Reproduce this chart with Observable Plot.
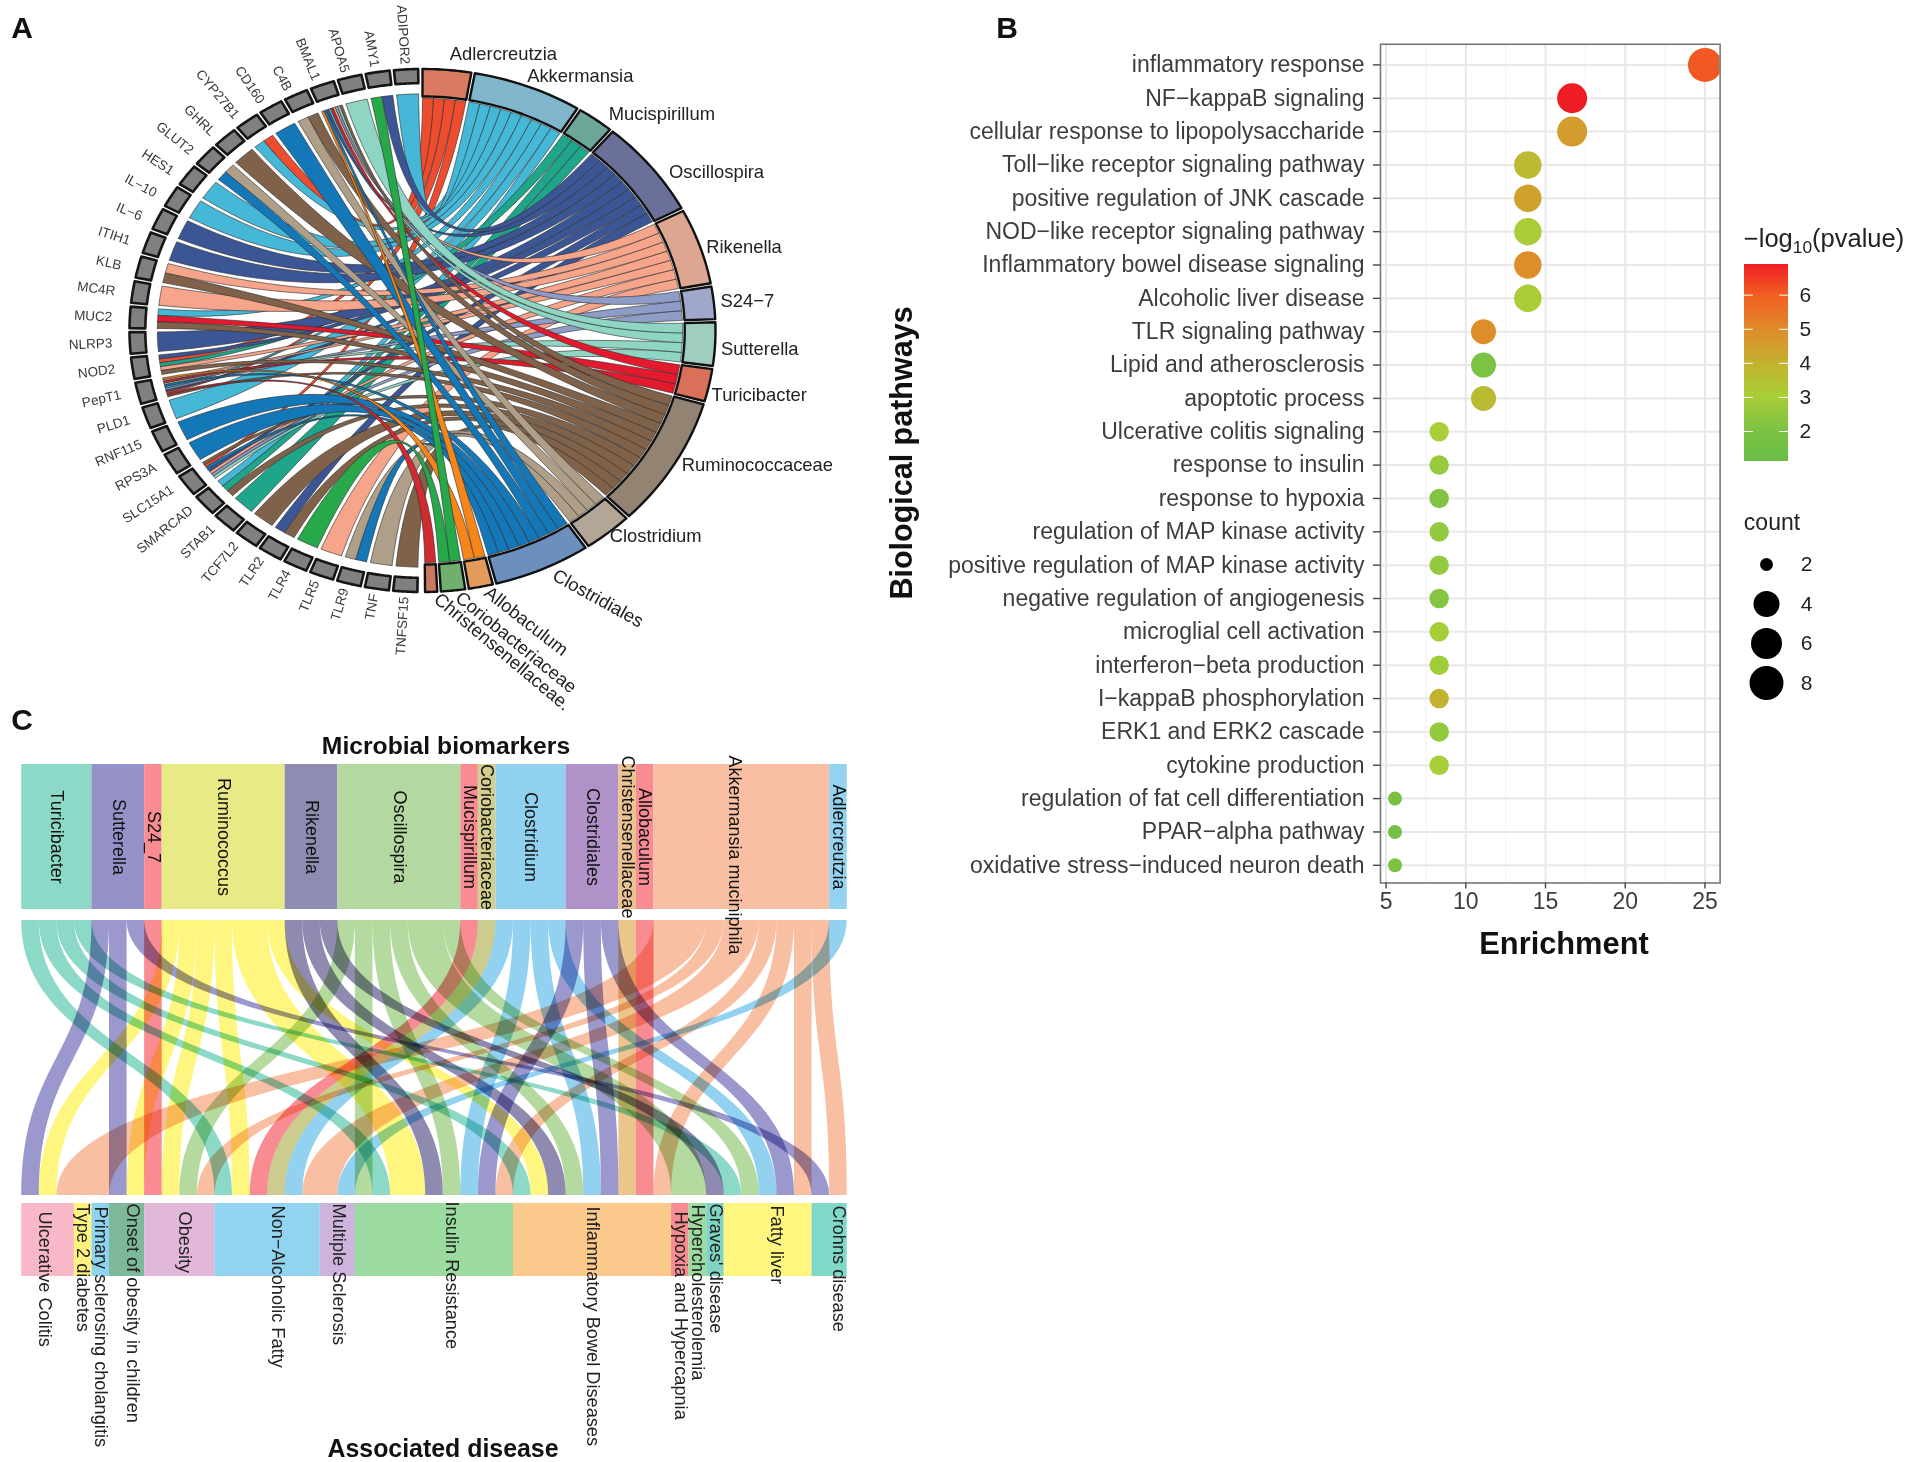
<!DOCTYPE html>
<html>
<head>
<meta charset="utf-8">
<script src="https://cdn.jsdelivr.net/npm/d3@7"></script>
<script src="https://cdn.jsdelivr.net/npm/@observablehq/plot@0.6"></script>
<style>
html,body{margin:0;padding:0;background:#fff}
#page{position:relative;width:1907px;height:1462px;overflow:hidden;font-family:"Liberation Sans",Arial,sans-serif;color:#111}
#page svg{position:absolute;background:transparent;overflow:visible}
.lbl{position:absolute;white-space:nowrap;transform:translate(-50%,-50%);line-height:1}
.lbl sub{font-size:.68em;line-height:0}
</style>
</head>
<body>
<div id="page"></div>
<script>
// ---------- Panel A data
const microbes = ["Adlercreutzia","Akkermansia","Mucispirillum","Oscillospira","Rikenella","S24−7","Sutterella","Turicibacter","Ruminococcaceae","Clostridium","Clostridiales","Allobaculum","Coriobacteriaceae","Christensenellaceae."];
const microbeRibbonColors = ["#EE4C2F","#45B8D8","#1FA58A","#3B5595","#F6A48A","#8E9CC8","#8FD5C3","#E3192E","#80624A","#B09F88","#1477B8","#F7861A","#27A84A","#D02B30"];
const microbeBlockColors = ["#D97B63","#7FB6CB","#6BA89A","#6A7099","#DCA690","#9FA8CB","#9FCDBF","#D9705A","#938373","#B3A696","#6C8FBE","#E39B5C","#70AF6E","#C97A5E"];
const microbeLabelTilt = [0,0,0,0,0,0,0,0,0,0,29,38,39,40];
const microbeLabelNudge = [[2,-8],[-4,-3],[8,1],[11,10],[-2,3],[-2,-1],[-3,5],[-6,8],[0,-3],[-4,-3],[8,-2],[4,-4],[4,-3],[5,-3]];
const genes = ["TNFSF15","TNF","TLR9","TLR5","TLR4","TLR2","TCF7L2","STAB1","SMARCAD","SLC15A1","RPS3A","RNF115","PLD1","PepT1","NOD2","NLRP3","MUC2","MC4R","KLB","ITIH1","IL−6","IL−10","HES1","GLUT2","GHRL","CYP27B1","CD160","C4B","BMAL1","APOA5","AMY1","ADIPOR2"];
const geneMicrobes = [
 ["Ruminococcaceae"],["Clostridium"],["Clostridiales","Clostridium"],["Rikenella"],["Coriobacteriaceae"],
 ["Ruminococcaceae","Oscillospira"],["Ruminococcaceae"],["Mucispirillum"],["Ruminococcaceae","Mucispirillum","Akkermansia"],
 ["Sutterella","S24−7","Rikenella","Oscillospira","Clostridiales","Adlercreutzia","Ruminococcaceae"],
 ["Clostridiales"],["Clostridiales"],["Akkermansia"],
 ["Ruminococcaceae","Christensenellaceae.","Adlercreutzia","Oscillospira","S24−7","Akkermansia","Clostridiales","Sutterella","Turicibacter","Rikenella","Allobaculum"],
 ["Ruminococcaceae","Rikenella","Mucispirillum","Adlercreutzia","Oscillospira"],
 ["Oscillospira"],["Ruminococcaceae","Turicibacter","Akkermansia"],["Rikenella"],["Ruminococcaceae","Rikenella"],
 ["Oscillospira"],["Oscillospira"],["Akkermansia"],["Akkermansia"],["Clostridiales","Clostridium"],["Ruminococcaceae"],
 ["Akkermansia","Adlercreutzia"],["Clostridiales"],["Clostridium","Ruminococcaceae"],
 ["Allobaculum","Clostridiales","Oscillospira","Akkermansia","Turicibacter","Rikenella","S24−7","Sutterella","Ruminococcaceae"],
 ["Sutterella"],["Coriobacteriaceae","Oscillospira"],["Akkermansia"]
];
// ---------- Panel B data
const pathways = ["inflammatory response","NF−kappaB signaling","cellular response to lipopolysaccharide","Toll−like receptor signaling pathway","positive regulation of JNK cascade","NOD−like receptor signaling pathway","Inflammatory bowel disease signaling","Alcoholic liver disease","TLR signaling pathway","Lipid and atherosclerosis","apoptotic process","Ulcerative colitis signaling","response to insulin","response to hypoxia","regulation of MAP kinase activity","positive regulation of MAP kinase activity","negative regulation of angiogenesis","microglial cell activation","interferon−beta production","I−kappaB phosphorylation","ERK1 and ERK2 cascade","cytokine production","regulation of fat cell differentiation","PPAR−alpha pathway","oxidative stress−induced neuron death"];
const enrichment = [25,16.67,16.67,13.89,13.89,13.89,13.89,13.89,11.11,11.11,11.11,8.33,8.33,8.33,8.33,8.33,8.33,8.33,8.33,8.33,8.33,8.33,5.56,5.56,5.56];
const pathwayCount = [9,6,6,5,5,5,5,5,4,4,4,3,3,3,3,3,3,3,3,3,3,3,2,2,2];
const logP = [6.05,6.9,4.5,3.7,4.4,3.1,4.9,3.1,4.9,2.0,3.6,3.0,2.6,2.1,2.5,2.5,2.2,2.9,2.8,3.9,2.5,3.0,1.8,1.6,2.0];
const xTicksB = [5,10,15,20,25];
const colorTicks = [2,3,4,5,6];
const countTicks = [2,4,6,8];
// ---------- Panel C data
const sources = ["Turicibacter","Sutterella","S24_7","Ruminococcus","Rikenella","Oscillospira","Mucispirillum","Coriobacteriaceae","Clostridium","Clostridiales","Christensenellaceae","Allobaculum","Akkermansia muciniphila","Adlercreutzia"];
const sourceBlockColors = ["#8DD9C7","#9492C8","#F98C93","#E8EA85","#8E8CB0","#B3D8A0","#F98C93","#D2CF8E","#90D1F0","#AE92C8","#EBC390","#F98C93","#F8BFA2","#93D3F0"];
const sourceFlowColors = ["#8CD9C7","#9B98CE","#F98C93","#FFF680","#8F8BB0","#B5DAA0","#F98C93","#CCCC8E","#92D2F0","#9B98CE","#EBC58C","#F98C93","#F9BFA3","#92D2F0"];
const diseases = ["Ulcerative Colitis","Type 2 diabetes","Primary sclerosing cholangitis","Onset of obesity in children","Obesity","Non−Alcoholic Fatty","Multiple Sclerosis","Insulin Resistance","Inflammatory Bowel Diseases","Hypoxia and Hypercapnia","Hypercholesterolemia","Graves' disease","Fatty liver","Crohns disease"];
const diseaseBlockColors = ["#F8B8C8","#FFF27F","#8ED4F0","#7DB89A","#E2B8D8","#92D3F0","#CDB4DC","#9BDBA0","#FBC98C","#F98C93","#9BDBA0","#7FD4C4","#FFF680","#80D8C8"];
const T="Turicibacter",Su="Sutterella",S2="S24_7",Ru="Ruminococcus",Ri="Rikenella",Os="Oscillospira",Mu="Mucispirillum",Co="Coriobacteriaceae",Cl="Clostridium",Cs="Clostridiales",Ch="Christensenellaceae",Al="Allobaculum",Ak="Akkermansia muciniphila",Ad="Adlercreutzia";
const diseaseSources = [[Su,Ru,Ak],[Ak],[Ak],[Su,Ru],[S2,Ru,Os,Ak],[T,Ru,Mu,Co,Cl,Ak],[Ak,Ad],[Os,T,Ru,Ru,Ri,Os,Cl,Cs,Ak],[T,Ru,Ri,Os,Cl,Cs,Ch,Al,Ak],[Os],[Os],[Ri],[T,Os,Cl,Cs,Ak],[Su,Ak]];
// small label nudges for panel C (label x shift, label start inset), in pixels
const diseaseLabelNudge = [[-3,8],[0,0],[0,3],[6,0],[5,8],[10,2],[1,0],[17,-2],[0,3],[0,8],[0,1],[0,0],[9,2],[9,2]];

// ---------- helpers
const page = document.getElementById("page");
const FONT = '"Liberation Sans",Arial,sans-serif';
function place(svg,left,top){svg.style.left=left+"px";svg.style.top=top+"px";page.appendChild(svg);}
function label(html,x,y,o={}){const d=document.createElement("div");d.className="lbl";d.innerHTML=html;
 d.style.left=x+"px";d.style.top=y+"px";d.style.fontSize=(o.size||20)+"px";d.style.fontWeight=o.bold?"bold":"normal";d.style.color=o.color||"#111";
 if(o.rotate)d.style.transform=`translate(-50%,-50%) rotate(${o.rotate}deg)`;page.appendChild(d);}

// ---------- Panel A
const RX=293,RY=261.5,CX=422,CY=330;
const rad=a=>a*Math.PI/180;
const polar=(a,r)=>[r*Math.sin(rad(a)),-r*Math.cos(rad(a))];
const unit=2.4,gapM=0.7;
const counts=microbes.map(m=>geneMicrobes.filter(g=>g.includes(m)).length);
let cur=0;const sectors=microbes.map((m,i)=>{const s=cur,e=cur+counts[i]*unit;cur=e+gapM;return {m,i,s,e,slot:0};});
const geneStep=(359.6-180.6)/genes.length,geneW=geneStep-0.85;
const geneArcs=genes.map((g,i)=>({g,i,s:180.6+i*geneStep+0.4,e:180.6+i*geneStep+0.4+geneW}));
function ringPoly(id,a,b,r0,r1,extra){const pts=[];const n=14;
 for(let k=0;k<=n;k++){const t=a+(b-a)*k/n;const[x,y]=polar(t,r1);pts.push({id,x,y,...extra});}
 for(let k=n;k>=0;k--){const t=a+(b-a)*k/n;const[x,y]=polar(t,r0);pts.push({id,x,y,...extra});}
 pts.push({...pts[0]});return pts;}
// links ordered so each microbe sector is untwisted
const links=[];
geneArcs.forEach((ga,gi)=>{const ms=geneMicrobes[gi];const w=geneW/ms.length;ms.forEach((m,k)=>links.push({gi,m,a1:ga.s+k*w,a2:ga.s+(k+1)*w}));});
microbes.forEach((m,mi)=>{const ls=links.filter(l=>l.m===m).sort((p,q)=>q.a1-p.a1);ls.forEach((l,k)=>{l.b1=sectors[mi].s+k*unit;l.b2=l.b1+unit;l.mi=mi;});});
const RM=0.888,RG=0.905;
function bez(p0,p2,n,pts,extra){for(let k=0;k<=n;k++){const t=k/n,u=1-t;pts.push({x:u*u*p0[0]+t*t*p2[0],y:u*u*p0[1]+t*t*p2[1],...extra});}}
function arc(a,b,r,n,pts,extra){for(let k=0;k<=n;k++){const[x,y]=polar(a+(b-a)*k/n,r);pts.push({x,y,...extra});}}
const drawOrder=[0,1,2,3,4,5,6,7,8,9,10,11,13,12];
const ribbonPts=[];
drawOrder.forEach(mi=>{links.filter(l=>l.mi===mi).forEach((l,j)=>{
 const ex={id:"r"+mi+"-"+j,color:microbeRibbonColors[mi]};
 arc(l.a1,l.a2,RG,5,ribbonPts,ex);
 bez(polar(l.a2,RG),polar(l.b1,RM),30,ribbonPts,ex);
 arc(l.b1,l.b2,RM,5,ribbonPts,ex);
 bez(polar(l.b2,RM),polar(l.a1,RG),30,ribbonPts,ex);
});});
const sectorPts=sectors.flatMap(s=>ringPoly("m"+s.i,s.s,s.e,0.895,1,{color:microbeBlockColors[s.i]}));
const genePts=geneArcs.flatMap(g=>ringPoly("g"+g.i,g.s,g.e,0.946,1,{color:"#808080"}));
const geneLabels=geneArcs.map(g=>{const a=(g.s+g.e)/2;const x=1.06*Math.sin(rad(a)),y=-1.02*Math.cos(rad(a));
 const rot=Math.atan2(Math.cos(rad(a))*RY,-Math.sin(rad(a))*RX)*180/Math.PI;return {t:g.g,x,y,rot};});
const microbeLabels=sectors.map(s=>{const[x,y]=polar((s.s+s.e)/2,1.03);const n=microbeLabelNudge[s.i];return {t:s.m,x:x+n[0]/RX,y:y+n[1]/RY,rot:microbeLabelTilt[s.i]};});

place(Plot.plot({width:880,height:725,margin:0,
 x:{domain:[-1,1],range:[CX-RX,CX+RX],axis:null},
 y:{domain:[-1,1],range:[CY-RY,CY+RY],axis:null},
 style:{fontFamily:FONT,background:"transparent"},
 marks:[
  Plot.line(ribbonPts,{x:"x",y:"y",z:"id",fill:"color",stroke:"#2a2a2a",strokeWidth:0.7,strokeOpacity:0.85,curve:"linear"}),
  Plot.line(sectorPts,{x:"x",y:"y",z:"id",fill:"color",stroke:"#111",strokeWidth:2.4,curve:"linear"}),
  Plot.line(genePts,{x:"x",y:"y",z:"id",fill:"color",stroke:"#151515",strokeWidth:2.6,curve:"linear"}),
  Plot.text(geneLabels,{x:"x",y:"y",text:"t",rotate:"rot",textAnchor:"end",lineAnchor:"middle",fontSize:13.5,fill:"#3a3a3a"}),
  Plot.text(microbeLabels,{x:"x",y:"y",text:"t",rotate:"rot",textAnchor:"start",lineAnchor:"middle",fontSize:18.4,fill:"#222"})
 ]}),0,0);

// ---------- Panel B
const bRows=pathways.map((name,i)=>({name,e:enrichment[i],count:pathwayCount[i],p:logP[i]}));
const colorScale={type:"linear",domain:[1.12,2,3,4,5,6,6.9],range:["#69BD45","#7CC243","#A9CF38","#C4B02F","#E08A2A","#F25C22","#EE1C25"]};
const minor=[7.5,12.5,17.5,22.5];
place(Plot.plot({width:860,height:980,marginLeft:500,marginRight:20.4,marginTop:43.75,marginBottom:97.5,
 x:{domain:[4.65,25.95],axis:null},
 y:{type:"point",padding:0,round:false,domain:pathways,range:[64.4,864.8],axis:null},
 color:colorScale,
 r:{type:"linear",domain:[2,4,6,9],range:[7,12.5,15,17]},
 style:{fontFamily:FONT,background:"transparent"},
 marks:[
  Plot.ruleX(minor,{stroke:"#f0f0f0",strokeWidth:1}),
  Plot.ruleX(xTicksB,{stroke:"#e8e8e8",strokeWidth:2}),
  Plot.ruleY(pathways,{stroke:"#e8e8e8",strokeWidth:2}),
  Plot.dot(bRows,{x:"e",y:"name",r:"count",fill:"p",clip:true}),
  Plot.frame({stroke:"#777",strokeWidth:1.6}),
  Plot.axisY({anchor:"left",label:null,tickSize:7,tickPadding:9,fontSize:23,color:"#3d3d3d",stroke:"#444",strokeWidth:1.4}),
  Plot.axisX({anchor:"bottom",ticks:xTicksB,label:null,tickSize:6,tickPadding:4,fontSize:23,color:"#3d3d3d",stroke:"#444",strokeWidth:1.4,tickFormat:d=>String(d)})
 ]}),880,0);
label("Enrichment",1564,944,{size:30.8,bold:true});
label("Biological pathways",901,453,{size:30.5,bold:true,rotate:-90});
// colour legend
const barVals=d3.range(1.12,6.9,0.04);
place(Plot.plot({width:160,height:230,margin:0,
 x:{domain:[0,1],range:[4,48],axis:null},
 y:{domain:[6.9,1.12],range:[14,211],axis:null},
 color:colorScale,
 style:{fontFamily:FONT,background:"transparent"},
 marks:[
  Plot.rect(barVals,{x1:0,x2:1,y1:d=>d,y2:d=>Math.min(6.9,d+0.08),fill:d=>d,shapeRendering:"crispEdges"}),
  Plot.ruleY(colorTicks,{x1:0,x2:0.2,stroke:"#fff",strokeWidth:1}),
  Plot.ruleY(colorTicks,{x1:0.8,x2:1,stroke:"#fff",strokeWidth:1}),
  Plot.text(colorTicks,{x:1,y:d=>d,text:d=>String(d),dx:11,textAnchor:"start",lineAnchor:"middle",fontSize:21,fill:"#222"})
 ]}),1740,250);
label("−log<sub>10</sub>(pvalue)",1824,239,{size:25.5,color:"#222"});
label("count",1772,522,{size:23,color:"#222"});
// size legend
place(Plot.plot({width:160,height:170,margin:0,
 x:{domain:[0,1],range:[26,66],axis:null},
 y:{type:"point",padding:0,round:false,domain:countTicks,range:[24,142.5],axis:null},
 r:{type:"linear",domain:[2,4,6,8],range:[6.5,13,15.5,17]},
 style:{fontFamily:FONT,background:"transparent"},
 marks:[
  Plot.dot(countTicks,{x:()=>0,y:d=>d,r:d=>d,fill:"#000"}),
  Plot.text(countTicks,{x:()=>1,y:d=>d,text:d=>String(d),textAnchor:"middle",lineAnchor:"middle",fontSize:21,fill:"#222"})
 ]}),1740,540);

// ---------- Panel C
const srcCounts=sources.map(s=>diseaseSources.flat().filter(d=>d===s).length);
const disCounts=diseaseSources.map(d=>d.length);
const cum=a=>{let c=0;return a.map(v=>{const s=c;c+=v;return s;});};
const srcStart=cum(srcCounts),disStart=cum(disCounts);
const srcNext=srcStart.slice();
const flowLinks=[];
diseaseSources.forEach((list,di)=>list.forEach((s,k)=>{const si=sources.indexOf(s);flowLinks.push({si,top:srcNext[si]++,bottom:disStart[di]+k});}));
function flowPts(l){const pts=[];for(let k=0;k<=60;k++){const t=k/60;
 const y=1.5*t*(1-t)+t*t*t;const s=3*t*t-2*t*t*t;const x=l.top+(l.bottom-l.top)*s;pts.push({y,x1:x,x2:x+1});}return pts;}
const PY=px=>(px-920)/275; // panel layout in flow units
const PXU=47/825.5;
const topBlocks=sources.map((s,i)=>({s,x1:srcStart[i],x2:srcStart[i]+srcCounts[i],c:sourceBlockColors[i]}));
const botBlocks=diseases.map((s,i)=>({s,x1:disStart[i],x2:disStart[i]+disCounts[i],c:diseaseBlockColors[i],nx:diseaseLabelNudge[i][0],ny:diseaseLabelNudge[i][1]}));
place(Plot.plot({width:880,height:750,margin:0,
 x:{domain:[0,47],range:[21.2,846.7],axis:null},
 y:{domain:[0,1],range:[920-712,1195-712],axis:null},
 style:{fontFamily:FONT,background:"transparent"},
 marks:[
  Plot.rect(topBlocks,{x1:"x1",x2:"x2",y1:()=>PY(764),y2:()=>PY(909),fill:"c"}),
  Plot.rect(botBlocks,{x1:"x1",x2:"x2",y1:()=>PY(1203),y2:()=>PY(1276),fill:"c"}),
  ...flowLinks.map(l=>Plot.areaX(flowPts(l),{y:"y",x1:"x1",x2:"x2",fill:sourceFlowColors[l.si],curve:"linear",mixBlendMode:"multiply"})),
  Plot.text(topBlocks,{x:d=>(d.x1+d.x2)/2+(d.s===Ak?-7*PXU:0),y:d=>PY(836.5+(d.s===Ak?18:0)),text:"s",rotate:90,textAnchor:"middle",lineAnchor:"middle",fontSize:18,fill:"#111"}),
  Plot.text(botBlocks,{x:d=>(d.x1+d.x2)/2+d.nx*PXU,y:d=>PY(1203+d.ny),text:"s",rotate:90,textAnchor:"start",lineAnchor:"middle",fontSize:18.2,fill:"#222"})
 ]}),0,712);
label("Microbial biomarkers",446,746,{size:24.7,bold:true});
label("Associated disease",443,1448,{size:24.9,bold:true});

// ---------- panel letters
label("A",22,28,{size:30,bold:true});
label("B",1007,28,{size:30,bold:true});
label("C",22,720,{size:30,bold:true});
</script>
</body>
</html>
